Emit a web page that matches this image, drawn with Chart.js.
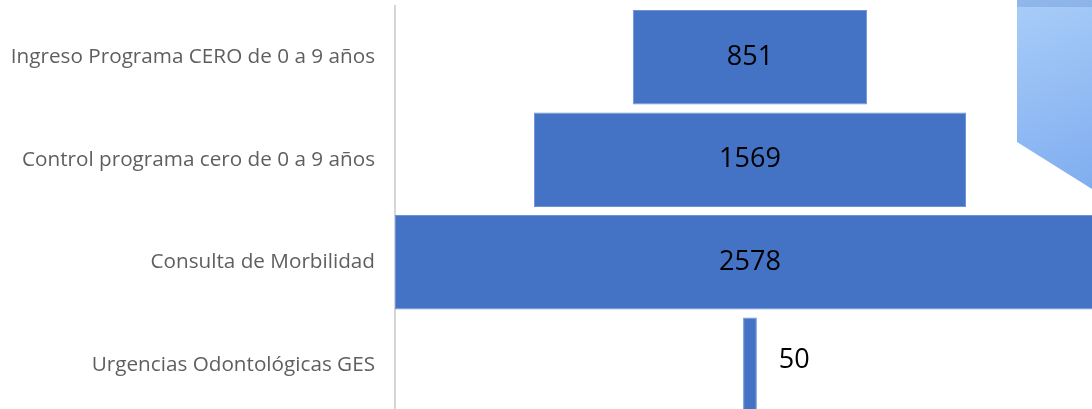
<!DOCTYPE html>
<html>
<head>
<meta charset="utf-8">
<script src="https://cdn.jsdelivr.net/npm/chart.js"></script>
<style>
  html, body { margin: 0; padding: 0; background: #fff; overflow: hidden; }
  canvas { display: block; }
</style>
</head>
<body>
<canvas id="funnel-chart" width="1092" height="418"></canvas>
<script>
// categories and values
const categories = [
    'Ingreso Programa CERO de 0 a 9 años',
    'Control programa cero de 0 a 9 años',
    'Consulta de Morbilidad',
    'Urgencias Odontológicas GES'
];
const values = [851, 1569, 2578, 50];

// funnel: invisible spacer pushes each bar so they are centred
const widest = Math.max(...values);
const spacer = values.map(v => (widest - v) / 2);

// decorative light blue shape in the top right corner (from the slide)
const cornerShape = {
    id: 'cornerShape',
    beforeDatasetsDraw(chart) {
        const c = chart.ctx;
        const w = chart.width;
        c.save();
        const g = c.createLinearGradient(1017, 0, w, 190);
        g.addColorStop(0, '#a9cdf8');
        g.addColorStop(1, '#7fadf0');
        c.fillStyle = g;
        c.beginPath();
        c.moveTo(1017, 0);
        c.lineTo(w, 0);
        c.lineTo(w, 189);
        c.lineTo(1017, 142);
        c.closePath();
        c.fill();
        c.fillStyle = 'rgba(120,160,220,0.5)';
        c.fillRect(1017, 0, w - 1017, 7);
        c.restore();
    }
};

// value labels, inside the bar or just right of it when too thin
const barLabels = {
    id: 'barLabels',
    afterDatasetsDraw(chart) {
        const c = chart.ctx;
        const meta = chart.getDatasetMeta(1);
        c.save();
        c.font = '27px "Open Sans", sans-serif';
        c.fillStyle = '#000';
        c.textBaseline = 'middle';
        meta.data.forEach((bar, i) => {
            const txt = String(values[i]);
            const tw = c.measureText(txt).width;
            const left = bar.base, right = bar.x;
            if (right - left > tw + 10) {
                c.textAlign = 'center';
                c.fillText(txt, (left + right) / 2, bar.y);
            } else {
                c.textAlign = 'left';
                c.fillText(txt, right + 22, bar.y - 4);
            }
        });
        c.restore();
    }
};

new Chart(document.getElementById('funnel-chart'), {
    type: 'bar',
    data: {
        labels: categories,
        datasets: [{
            label: 'spacer',
            data: spacer,
            backgroundColor: 'rgba(0,0,0,0)',
            categoryPercentage: 1,
            barPercentage: 0.92
        },
        {
            label: 'Atenciones',
            data: values,
            backgroundColor: '#4472C4',
            borderColor: '#6f93d6',
            borderWidth: 1,
            borderSkipped: false,
            categoryPercentage: 1,
            barPercentage: 0.92
        }]
    },
    options: {
        responsive: false,
        indexAxis: 'y',
        animation: false,
        layout: { padding: { top: 6, bottom: 2, left: 0, right: 0 } },
        plugins: {
            legend: { display: false },
            tooltip: { enabled: false }
        },
        scales: {
            x: {
                stacked: true,
                display: false,
                min: 0,
                max: 2531
            },
            y: {
                stacked: true,
                grid: { display: false },
                border: { display: true, color: '#d6d6d6', width: 2 },
                ticks: {
                    color: '#5f5f5f',
                    padding: 12,
                    font: { family: '"Open Sans", sans-serif', size: 20.7 }
                },
                afterFit(scale) {
                    scale.width = 395;
                    scale.paddingTop = 0;
                    scale.paddingBottom = 0;
                }
            }
        }
    },
    plugins: [cornerShape, barLabels]
});
</script>
</body>
</html>
